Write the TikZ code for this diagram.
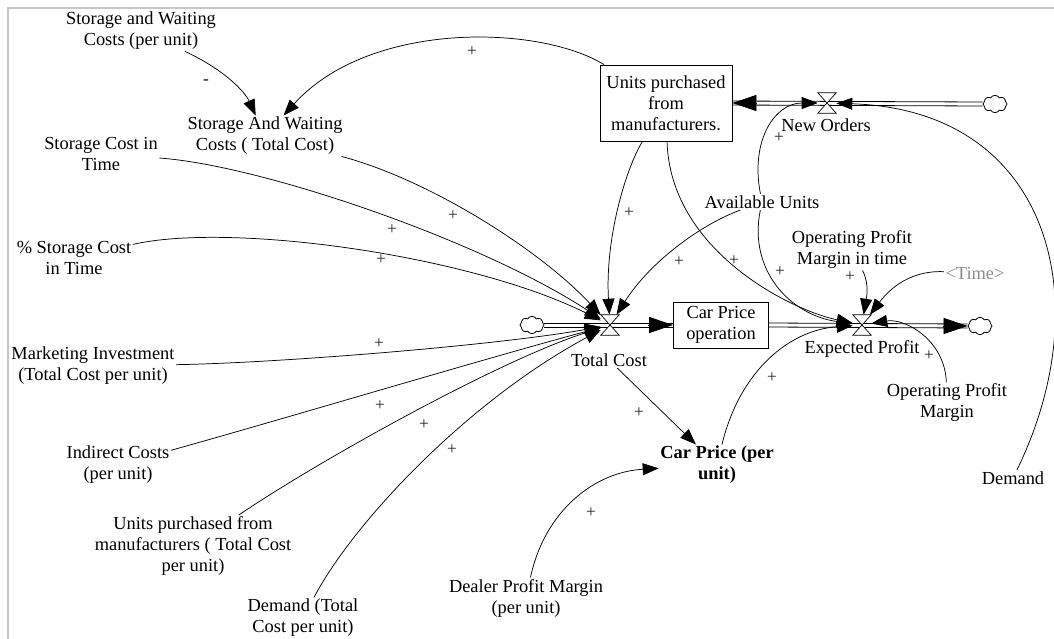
\documentclass[tikz,border=0pt]{standalone}
\usepackage{fontspec}
\setmainfont{Liberation Serif}
\usetikzlibrary{arrows.meta,shapes.symbols,calc}
\begin{document}
\begin{tikzpicture}[x=0.75pt,y=-0.75pt,
  lbl/.style={align=center, inner sep=1pt, font=\fontsize{13.8}{15.75}\selectfont},
  boxnode/.style={draw, line width=0.6pt, fill=white, align=center, inner sep=1pt, font=\fontsize{13.8}{15.75}\selectfont},
  link/.style={draw, line width=0.55pt, -{Triangle[length=12pt,width=9pt]}},
  pipe/.style={draw, line width=0.6pt},
  ftip/.style={line width=0.5pt, -{Triangle[length=18pt,width=12pt]}},
  valve/.style={rectangle, minimum width=13.5pt, minimum height=15pt, inner sep=0pt},
  hourglass/.style={draw, line width=0.5pt, fill=white},
  cloudy/.style={cloud, cloud puffs=8, cloud puff arc=120, aspect=1.4, draw, line width=0.6pt, fill=white, minimum width=18pt, minimum height=13pt, inner sep=0pt},
  pol/.style={inner sep=0pt, font=\fontsize{13}{14}\selectfont, text=black!85}
]
\useasboundingbox (0,0) rectangle (1054,639);
\draw[line width=1.5pt, black!22] (8.3,639) -- (8.3,7.5) -- (1054,7.5);

% variables
\node[lbl] (swpu) at (141,31) {Storage and Waiting\\Costs (per unit)};
\node[lbl] (swtc) at (265,136) {Storage And Waiting\\Costs ( Total Cost)};
\node[lbl] (sct) at (101,154) {Storage Cost in\\Time};
\node[lbl] (psct) at (74,258) {\% Storage Cost\\in Time};
\node[lbl] (mi) at (93,366) {Marketing Investment\\(Total Cost per unit)};
\node[lbl] (ic) at (118,465) {Indirect Costs\\(per unit)};
\node[lbl] (upfmtc) at (193,546) {Units purchased from\\manufacturers ( Total Cost\\per unit)};
\node[lbl] (dtc) at (303,618) {Demand (Total\\Cost per unit)};
\node[lbl] (dpm) at (526,598) {Dealer Profit Margin\\(per unit)};
\node[lbl, font=\fontsize{13.8}{15.75}\selectfont\bfseries] (cppu) at (717,465) {Car Price (per\\unit)};
\node[lbl] (tclab) at (609,360) {Total Cost};
\node[lbl] (nolab) at (826,125) {New Orders};
\node[lbl] (au) at (762,202) {Available Units};
\node[lbl] (opmt) at (852,250) {Operating Profit\\Margin in time};
\node[lbl, text=black!45] (time) at (975,273) {\textless Time\textgreater};
\node[lbl] (eplab) at (862,349) {Expected Profit};
\node[lbl] (opm) at (947,403) {Operating Profit\\Margin};
\node[lbl] (dem) at (1013,478) {Demand};

% stocks
\node[boxnode, minimum width=71.25pt, minimum height=34.5pt] (cpo) at (721,325) {Car Price\\operation};
\node[boxnode, minimum width=99pt, minimum height=57pt] (upfm) at (666,103) {Units purchased\\from\\manufacturers.};

% clouds
\node[cloudy] (cl1) at (532,325) {};
\node[cloudy] (cl2) at (980,326) {};
\node[cloudy] (cl3) at (995,104) {};

% valves (positions)
\node[valve] (tcv) at (610,325) {};
\node[valve] (epv) at (862,325) {};
\node[valve] (nov) at (827,103) {};

% pipes (double lines)
\draw[pipe] ([yshift=1.5pt]cl1.east) -- ([yshift=1.5pt]cpo.west);
\draw[pipe] ([yshift=-1.5pt]cl1.east) -- ([yshift=-1.5pt]cpo.west);
\draw[ftip] ($(cpo.west)+(-25,0)$) -- (cpo.west);
\draw[pipe] ([yshift=1.5pt]cpo.east) -- ([yshift=1.5pt]cl2.west);
\draw[pipe] ([yshift=-1.5pt]cpo.east) -- ([yshift=-1.5pt]cl2.west);
\draw[ftip] ($(cl2.west)+(-25,0)$) -- (cl2.west);
\draw[pipe] ([yshift=1.5pt]cl3.west) -- ([yshift=1.5pt]upfm.east);
\draw[pipe] ([yshift=-1.5pt]cl3.west) -- ([yshift=-1.5pt]upfm.east);
\draw[ftip] ($(upfm.east)+(25,0)$) -- (upfm.east);

% valve glyphs
\draw[hourglass] (tcv.north west) -- (tcv.north east) -- (tcv.south west) -- (tcv.south east) -- cycle;
\draw[hourglass] (epv.north west) -- (epv.north east) -- (epv.south west) -- (epv.south east) -- cycle;
\draw[hourglass] (nov.north west) -- (nov.north east) -- (nov.south west) -- (nov.south east) -- cycle;

% links
\draw[link] (swpu) .. controls (225,70) and (245,92) .. (swtc);
\draw[link] (upfm) .. controls (540,25) and (370,20) .. (swtc);
\draw[link] (swtc) .. controls (430,180) and (540,250) .. (tcv);
\draw[link] (sct) .. controls (260,165) and (480,240) .. (tcv);
\draw[link] (psct) .. controls (230,222) and (470,255) .. (tcv);
\draw[link] (mi) .. controls (280,363) and (500,345) .. (tcv);
\draw[link] (ic) .. controls (280,420) and (480,360) .. (tcv);
\draw[link] (upfmtc) .. controls (320,460) and (500,360) .. (tcv);
\draw[link] (dtc) .. controls (355,520) and (470,400) .. (tcv);
\draw[link] (upfm) .. controls (625,170) and (605,240) .. (tcv);
\draw[link] (au) .. controls (700,225) and (650,262) .. (tcv);
\draw[link] (upfm) .. controls (670,250) and (790,310) .. (epv);
\draw[link] (au) .. controls (750,140) and (775,103) .. (nov);
\draw[link] (au) .. controls (748,270) and (790,315) .. (epv);
\draw[link] (dem) .. controls (1100,300) and (1050,110) .. (nov);
\draw[link] (opmt) .. controls (870,285) and (866,300) .. (epv);
\draw[link] (time) .. controls (905,270) and (885,295) .. (epv);
\draw[link] (opm) .. controls (945,340) and (905,318) .. (epv);
\draw[link] (cppu) .. controls (740,370) and (790,330) .. (epv);
\draw[link] (tclab) -- (cppu);
\draw[link] (dpm) .. controls (545,510) and (595,472) .. (cppu);

% polarities
\node[pol] (p1) at (472,52) {+};
\node[pol, font=\fontsize{13}{14}\selectfont\bfseries] (p2) at (206,82) {-};
\node[pol] (p3) at (453,216) {+};
\node[pol] (p4) at (392,230) {+};
\node[pol] (p5) at (381,260) {+};
\node[pol] (p6) at (379,344) {+};
\node[pol] (p7) at (380,406) {+};
\node[pol] (p8) at (424,425) {+};
\node[pol] (p9) at (452,450) {+};
\node[pol] (p10) at (629,213) {+};
\node[pol] (p11) at (679,262) {+};
\node[pol] (p12) at (734,261) {+};
\node[pol] (p13) at (779,138) {+};
\node[pol] (p14) at (780,272) {+};
\node[pol] (p15) at (850,277) {+};
\node[pol] (p16) at (929,356) {+};
\node[pol] (p17) at (772,378) {+};
\node[pol] (p18) at (639,413) {+};
\node[pol] (p19) at (591,513) {+};
\end{tikzpicture}
\end{document}
